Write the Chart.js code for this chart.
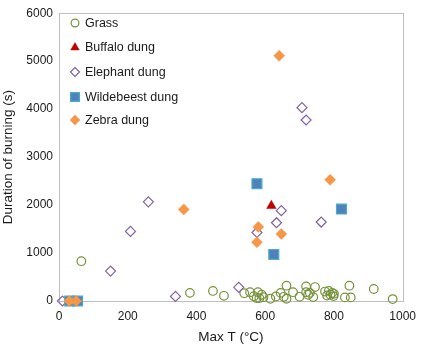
<!DOCTYPE html>
<html>
<head>
<meta charset="utf-8">
<script src="https://cdn.jsdelivr.net/npm/chart.js@4/dist/chart.umd.min.js"></script>
<style>
  html, body { margin: 0; padding: 0; background: #fff; }
  #wrap { width: 424px; height: 345px; }
</style>
</head>
<body>
<div id="wrap"><canvas id="myChart" width="424" height="345"></canvas></div>
<script>
// data block
const seriesNames = ['Grass', 'Buffalo dung', 'Elephant dung', 'Wildebeest dung', 'Zebra dung'];

const grassT = [65, 381, 448, 480, 539, 556, 567, 575, 579, 583, 590, 595, 615, 631, 645, 654, 662, 662,
    681, 700, 719, 719, 725, 730, 740, 745, 774, 780, 785, 790, 795, 799, 800, 832, 845, 849, 916, 971];
const grassDur = [830, 170, 210, 108, 163, 183, 100, 60, 183, 60, 130, 80, 47, 95, 169, 88, 319, 47,
    183, 88, 305, 183, 130, 169, 81, 291, 197, 115, 210, 130, 169, 102, 150, 75, 319, 75, 250, 40];

const buffaloT = [618];
const buffaloDur = [1985];

const elephantT = [10, 150, 208, 260, 339, 523, 576, 633, 647, 763, 707, 719];
const elephantDur = [0, 624, 1450, 2067, 96, 285, 1429, 1632, 1884, 1646, 4030, 3774];

const wildebeestT = [31, 54, 576, 625, 822];
const wildebeestDur = [0, 0, 2445, 970, 1917];

const zebraT = [30, 50, 363, 576, 580, 647, 641, 789];
const zebraDur = [0, 0, 1910, 1226, 1545, 1396, 5115, 2527];

const xTicks = [0, 200, 400, 600, 800, 1000];
const yTicks = [0, 1000, 2000, 3000, 4000, 5000, 6000];

const toPoints = (xs, ys) => xs.map((x, i) => ({ x: x, y: ys[i] }));

const data = {
    datasets: [{
        label: seriesNames[0],
        data: toPoints(grassT, grassDur),
        pointStyle: 'circle',
        pointRadius: 4.3,
        backgroundColor: 'rgba(255,255,255,0)',
        borderColor: '#77933C',
        borderWidth: 1.2,
        order: 5
    }, {
        label: seriesNames[1],
        data: toPoints(buffaloT, buffaloDur),
        pointStyle: 'triangle',
        pointRadius: 5.5,
        backgroundColor: '#C00000',
        borderColor: '#C00000',
        borderWidth: 0.5,
        order: 4
    }, {
        label: seriesNames[2],
        data: toPoints(elephantT, elephantDur),
        pointStyle: 'rectRot',
        pointRadius: 5,
        backgroundColor: 'rgba(255,255,255,0)',
        borderColor: '#8064A2',
        borderWidth: 1.2,
        order: 3
    }, {
        label: seriesNames[3],
        data: toPoints(wildebeestT, wildebeestDur),
        pointStyle: 'rect',
        pointRadius: 7,
        backgroundColor: '#4F81BD',
        borderColor: '#4BACC6',
        borderWidth: 1.2,
        order: 2
    }, {
        label: seriesNames[4],
        data: toPoints(zebraT, zebraDur),
        pointStyle: 'rectRot',
        pointRadius: 5.5,
        backgroundColor: '#F79646',
        borderColor: '#F79646',
        borderWidth: 0.5,
        order: 1
    }]
};

// legend drawn inside the plot, top left
const insideLegend = {
    id: 'insideLegend',
    afterDraw(chart) {
        const ctx = chart.ctx;
        const rowY = [23, 47.5, 72, 97, 120];
        ctx.save();
        ctx.font = '12.5px "Liberation Sans", Arial, sans-serif';
        ctx.textBaseline = 'middle';
        chart.data.datasets.forEach((ds, i) => {
            ctx.fillStyle = ds.backgroundColor;
            ctx.strokeStyle = ds.borderColor;
            ctx.lineWidth = ds.borderWidth;
            Chart.helpers.drawPoint(ctx, {
                pointStyle: ds.pointStyle,
                radius: ds.pointRadius * 0.9,
                borderWidth: ds.borderWidth,
                rotation: 0
            }, 75, rowY[i]);
            ctx.fillStyle = '#1a1a1a';
            ctx.fillText(ds.label, 85, rowY[i] + 0.5);
        });
        ctx.restore();
    }
};

// grey box round the plot area (top and right edges)
const plotBox = {
    id: 'plotBox',
    beforeDatasetsDraw(chart) {
        const a = chart.chartArea;
        const ctx = chart.ctx;
        ctx.save();
        ctx.strokeStyle = '#bfbfbf';
        ctx.lineWidth = 1;
        ctx.strokeRect(Math.round(a.left) + 0.5, Math.round(a.top) + 0.5,
            Math.round(a.right - a.left), Math.round(a.bottom - a.top));
        ctx.restore();
    }
};

const tickFont = { family: '"Liberation Sans", Arial, sans-serif', size: 12 };
const titleFont = { family: '"Liberation Sans", Arial, sans-serif', size: 13.5 };

// config block
const config = {
    type: 'scatter',
    data: data,
    plugins: [plotBox, insideLegend],
    options: {
        responsive: false,
        animation: false,
        clip: false,
        layout: { padding: { left: 0, top: 6, right: 14, bottom: 0 } },
        scales: {
            x: {
                type: 'linear',
                min: 0,
                max: 1000,
                afterBuildTicks: (scale) => { scale.ticks = xTicks.map(v => ({ value: v })); },
                afterFit: (scale) => { scale.height = 44; },
                grid: { display: false, drawTicks: false },
                border: { display: true, color: '#bfbfbf' },
                ticks: {
                    color: '#1a1a1a', font: tickFont, padding: 8, maxRotation: 0,
                    callback: (v) => String(v)
                },
                title: {
                    display: true,
                    text: 'Max T (°C)',
                    color: '#1a1a1a',
                    font: titleFont,
                    padding: { top: 4, bottom: 0 }
                }
            },
            y: {
                type: 'linear',
                min: 0,
                max: 6000,
                afterBuildTicks: (scale) => { scale.ticks = yTicks.map(v => ({ value: v })); },
                afterFit: (scale) => { scale.width = 59; },
                grid: { display: false, drawTicks: false },
                border: { display: true, color: '#bfbfbf' },
                ticks: {
                    color: '#1a1a1a', font: tickFont, padding: 6,
                    callback: (v) => String(v)
                },
                title: {
                    display: true,
                    text: 'Duration of burning (s)',
                    color: '#1a1a1a',
                    font: titleFont,
                    padding: { top: 0, bottom: 0 }
                }
            }
        },
        plugins: {
            legend: { display: false },
            tooltip: { enabled: false }
        }
    }
};

// init render block
const myChart = new Chart(
    document.getElementById('myChart'),
    config
);
</script>
</body>
</html>
